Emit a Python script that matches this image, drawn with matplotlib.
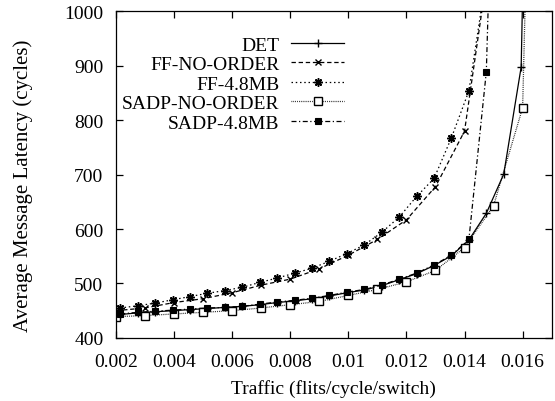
'''
plot.py
Average message latency vs. traffic, gnuplot-style line chart.
'''

import matplotlib
matplotlib.use('Agg')
import matplotlib.pyplot as plt

#
# Data
#
# series sampled every 0.001
x_step1 = [0.002, 0.003, 0.004, 0.005, 0.006, 0.007, 0.008, 0.009,
           0.010, 0.011, 0.012, 0.013, 0.014, 0.015, 0.016, 0.017]
ff_no_order   = [450, 455, 465, 472, 483, 497, 508, 527,
                 552, 581, 617, 678, 780, 1150]
sadp_no_order = [439, 441, 444, 447, 450, 455, 461, 467,
                 478, 489, 503, 524, 566, 643, 823, 3000]

# series sampled every 0.0006
x_step6 = [0.00215, 0.00275, 0.00335, 0.00395, 0.00455, 0.00515, 0.00575,
           0.00635, 0.00695, 0.00755, 0.00815, 0.00875, 0.00935, 0.00995,
           0.01055, 0.01115, 0.01175, 0.01235, 0.01295, 0.01355, 0.01415,
           0.01475, 0.01535, 0.01595, 0.01655]
det      = [443, 446, 448, 450, 452, 454, 456, 458, 461, 465, 468, 472,
            477, 483, 488, 496, 507, 518, 533, 551, 580, 629, 701, 898, 2500]
ff_48mb  = [455, 459, 464, 470, 476, 482, 487, 493, 502, 510, 519, 528,
            541, 555, 571, 594, 622, 660, 693, 768, 854, 1065]
sadp_48mb = [444, 447, 449, 451, 453, 455, 456, 458, 462, 466, 469, 473,
             478, 484, 489, 497, 508, 519, 534, 552, 581, 889, 2000]

x_ticks = [0.002, 0.004, 0.006, 0.008, 0.01, 0.012, 0.014, 0.016]
x_tick_labels = ['0.002', '0.004', '0.006', '0.008', '0.01', '0.012',
                 '0.014', '0.016']
y_ticks = [400, 500, 600, 700, 800, 900, 1000]

#
# create the plot
#
plt.rcParams['font.family'] = ['Liberation Serif', 'DejaVu Serif']
plt.rcParams['font.size'] = 14

fig = plt.figure(figsize=(5.55, 4.02), dpi=100)
ax = fig.add_axes([0.209, 0.157, 0.785, 0.812])

lw = 0.9
ax.plot(x_step6[:len(det)], det, color='black', lw=lw, ls='-',
        marker='+', ms=6, mew=1.0, label='DET')
ax.plot(x_step1[:len(ff_no_order)], ff_no_order, color='black', lw=lw,
        ls=(0, (3.5, 2.2)), marker='x', ms=5, mew=1.0, label='FF-NO-ORDER')
ax.plot(x_step6[:len(ff_48mb)], ff_48mb, color='black', lw=lw,
        ls=(0, (1.2, 2.2)), marker=(8, 2, 0), ms=6, mew=1.1,
        label='FF-4.8MB')
ax.plot(x_step1[:len(sadp_no_order)], sadp_no_order, color='black', lw=lw,
        ls=(0, (0.6, 0.9)), marker='s', ms=5.5, mfc='white', mew=1.0,
        label='SADP-NO-ORDER')
ax.plot(x_step6[:len(sadp_48mb)], sadp_48mb, color='black', lw=lw,
        ls=(0, (4, 2, 1, 2)), marker='s', ms=5, mfc='black', mew=0.8,
        label='SADP-4.8MB')

ax.set_xlim(0.002, 0.017)
ax.set_ylim(400, 1000)
ax.set_xticks(x_ticks)
ax.set_xticklabels(x_tick_labels)
ax.set_yticks(y_ticks)
ax.tick_params(direction='in', top=True, right=True, length=5, width=0.9,
               pad=9, labelsize=14)
ax.tick_params(axis='x', pad=11)
for s in ax.spines.values():
    s.set_linewidth(0.9)

ax.set_xlabel('Traffic (flits/cycle/switch)', fontsize=14)
ax.set_ylabel('Average Message Latency (cycles)', fontsize=15)
ax.xaxis.set_label_coords(0.5, -0.125)
ax.yaxis.set_label_coords(-0.19, 0.468)

leg = ax.legend(loc='upper right', bbox_to_anchor=(0.523, 0.925),
                frameon=False, markerfirst=False, numpoints=1, fontsize=14,
                handlelength=2.7, handletextpad=0.6, labelspacing=0.1,
                borderaxespad=0, borderpad=0)
# right-align the labels like gnuplot does
for col in leg._legend_handle_box.get_children():
    col.align = 'right'

fig.savefig('out.png', dpi=100)
